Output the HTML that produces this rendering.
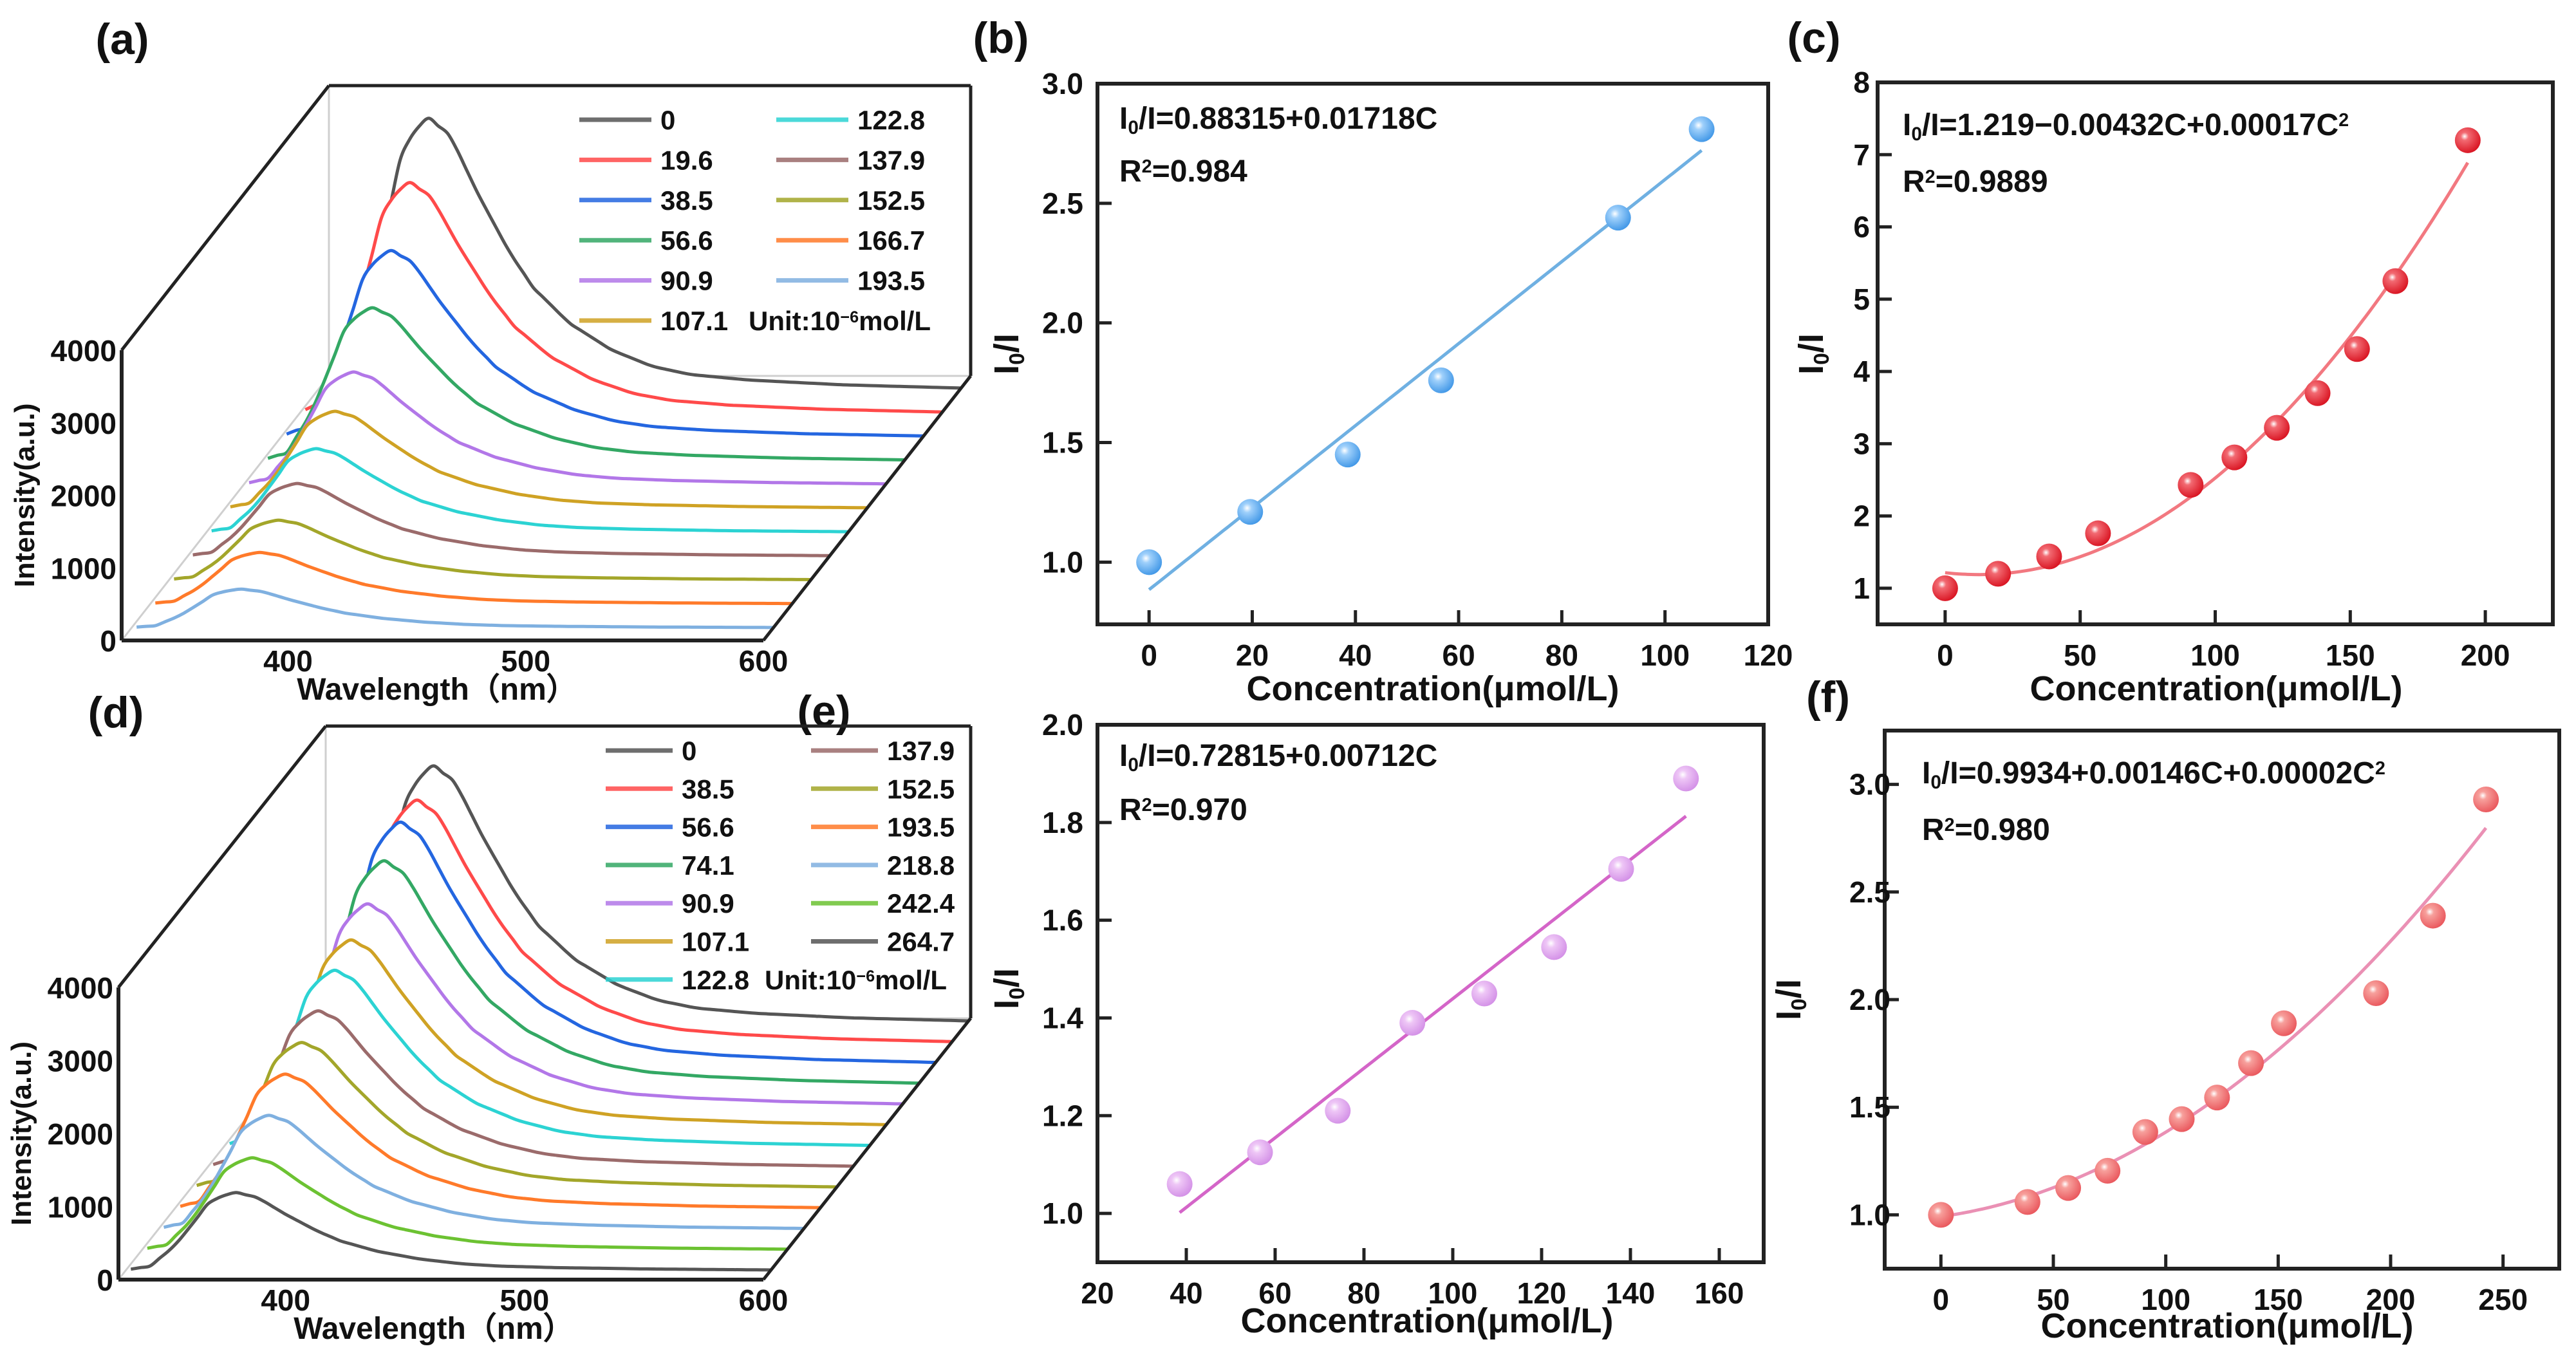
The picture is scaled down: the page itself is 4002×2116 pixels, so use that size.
<!DOCTYPE html>
<html><head><meta charset="utf-8">
<style>
html,body{margin:0;padding:0;background:#fff;}
svg{display:block;}
text{font-family:"Liberation Sans",Arial,sans-serif;font-weight:bold;fill:#111;}
</style></head>
<body>
<svg id="fig" xmlns="http://www.w3.org/2000/svg" width="4002" height="2116" viewBox="0 0 4002 2116">
<defs>
  <radialGradient id="gBlue" cx="0.38" cy="0.35" r="0.7"><stop offset="0" stop-color="#ffffff"/><stop offset="0.25" stop-color="#9fd0fb"/><stop offset="1" stop-color="#3d95e6"/></radialGradient>
  <radialGradient id="gRed" cx="0.38" cy="0.35" r="0.7"><stop offset="0" stop-color="#ffffff"/><stop offset="0.22" stop-color="#f26a72"/><stop offset="1" stop-color="#d8101e"/></radialGradient>
  <radialGradient id="gLilac" cx="0.38" cy="0.35" r="0.7"><stop offset="0" stop-color="#ffffff"/><stop offset="0.25" stop-color="#eec6f6"/><stop offset="1" stop-color="#d28ee6"/></radialGradient>
  <radialGradient id="gSalmon" cx="0.38" cy="0.35" r="0.7"><stop offset="0" stop-color="#ffffff"/><stop offset="0.22" stop-color="#f7a09c"/><stop offset="1" stop-color="#e9545a"/></radialGradient>
</defs>
<g id="layer"></g>
</svg>
<script>
// ---------- DATA ----------
// panel (a) spectra
const aConc = [0, 19.6, 38.5, 56.6, 90.9, 107.1, 122.8, 137.9, 152.5, 166.7, 193.5];
const aPeak = [3743, 3184, 2572, 2111, 1552, 1339, 1153, 1002, 825, 710, 532];
const aColors = ["#555555","#ff4a4a","#2466e0","#33a864","#b277e8","#cfa224","#2cd3d3","#9b6b6b","#a3a62a","#ff7a2a","#7fb0e0"];
// panel (d) spectra
const dConc = [0, 38.5, 56.6, 74.1, 90.9, 107.1, 122.8, 137.9, 152.5, 193.5, 218.8, 242.4, 264.7];
const dPeak = [3515, 3330, 3313, 3066, 2758, 2546, 2414, 2141, 1991, 1841, 1559, 1260, 1066];
const dColors = ["#555555","#ff4a4a","#2466e0","#33a864","#b277e8","#cfa224","#2cd3d3","#9b6b6b","#a3a62a","#ff7a2a","#7fb0e0","#6cc232","#555555"];
// normalized emission profile
const specWl = [330, 340, 350, 358, 365, 375, 385, 397, 410, 420, 435, 453, 470, 486, 510, 550, 600];
const specShape = [0, 0.05, 0.3, 0.6, 0.88, 1, 0.93, 0.71, 0.5, 0.37, 0.24, 0.14, 0.08, 0.05, 0.03, 0.012, 0];
const spTicksY = [0, 1000, 2000, 3000, 4000];
const spTicksX = [400, 500, 600];
// panel (b)
const bConc = [0, 19.6, 38.5, 56.6, 90.9, 107.1];
const bRatio = [1.0, 1.21, 1.45, 1.76, 2.44, 2.81];
const bTicksX = [0, 20, 40, 60, 80, 100, 120];
const bTicksY = [1.0, 1.5, 2.0, 2.5, 3.0];
// panel (c)
const cConc = [0, 19.6, 38.5, 56.6, 90.9, 107.1, 122.8, 137.9, 152.5, 166.7, 193.5];
const cRatio = [1.0, 1.2, 1.44, 1.76, 2.43, 2.81, 3.22, 3.7, 4.31, 5.25, 7.2];
const cTicksX = [0, 50, 100, 150, 200];
const cTicksY = [1, 2, 3, 4, 5, 6, 7, 8];
// panel (e)
const eConc = [38.5, 56.6, 74.1, 90.9, 107.1, 122.8, 137.9, 152.5];
const eRatio = [1.06, 1.125, 1.21, 1.39, 1.45, 1.545, 1.705, 1.89];
const eTicksX = [20, 40, 60, 80, 100, 120, 140, 160];
const eTicksY = [1.0, 1.2, 1.4, 1.6, 1.8, 2.0];
// panel (f)
const fConc = [0, 38.5, 56.6, 74.1, 90.9, 107.1, 122.8, 137.9, 152.5, 193.5, 218.8, 242.4];
const fRatio = [1.0, 1.06, 1.125, 1.205, 1.385, 1.445, 1.545, 1.705, 1.89, 2.03, 2.39, 2.93];
const fTicksX = [0, 50, 100, 150, 200, 250];
const fTicksY = [1.0, 1.5, 2.0, 2.5, 3.0];

// ---------- HELPERS ----------
const NS = "http://www.w3.org/2000/svg";
const layer = document.getElementById("layer");
function mk(tag, attrs, parent) {
  const e = document.createElementNS(NS, tag);
  for (const k in attrs) e.setAttribute(k, attrs[k]);
  (parent || layer).appendChild(e);
  return e;
}
function smoothPath(pts) {
  let d = "M" + pts[0][0].toFixed(1) + "," + pts[0][1].toFixed(1);
  for (let i = 0; i < pts.length - 1; i++) {
    const p0 = pts[i - 1] || pts[i], p1 = pts[i], p2 = pts[i + 1], p3 = pts[i + 2] || p2;
    const c1 = [p1[0] + (p2[0] - p0[0]) / 6, p1[1] + (p2[1] - p0[1]) / 6];
    const c2 = [p2[0] - (p3[0] - p1[0]) / 6, p2[1] - (p3[1] - p1[1]) / 6];
    d += " C" + c1[0].toFixed(1) + "," + c1[1].toFixed(1) + " " + c2[0].toFixed(1) + "," + c2[1].toFixed(1) + " " + p2[0].toFixed(1) + "," + p2[1].toFixed(1);
  }
  return d;
}
function polyfit(xs, ys, deg) {
  const n = deg + 1;
  const A = [], B = [];
  for (let i = 0; i < n; i++) { A.push(new Array(n).fill(0)); B.push(0); }
  for (let k = 0; k < xs.length; k++) {
    for (let i = 0; i < n; i++) {
      B[i] += ys[k] * Math.pow(xs[k], i);
      for (let j = 0; j < n; j++) A[i][j] += Math.pow(xs[k], i + j);
    }
  }
  for (let i = 0; i < n; i++) {
    let p = i;
    for (let r = i + 1; r < n; r++) if (Math.abs(A[r][i]) > Math.abs(A[p][i])) p = r;
    [A[i], A[p]] = [A[p], A[i]]; [B[i], B[p]] = [B[p], B[i]];
    for (let r = i + 1; r < n; r++) {
      const f = A[r][i] / A[i][i];
      for (let c = i; c < n; c++) A[r][c] -= f * A[i][c];
      B[r] -= f * B[i];
    }
  }
  const x = new Array(n).fill(0);
  for (let i = n - 1; i >= 0; i--) {
    let s = B[i];
    for (let c = i + 1; c < n; c++) s -= A[i][c] * x[c];
    x[i] = s / A[i][i];
  }
  return x;
}
function txt(x, y, s, size, anchor, name, parent) {
  const t = mk("text", {x: x, y: y, "font-size": size, "text-anchor": anchor || "start"}, parent);
  
  
  t.textContent = s;
  return t;
}
function richText(x, y, parts, size, anchor, name, parent) {
  const t = mk("text", {x: x, y: y, "font-size": size, "text-anchor": anchor || "start"}, parent);
  
  
  parts.forEach(p => {
    const ts = mk("tspan", {}, t);
    if (p[1] === "sub") { ts.setAttribute("baseline-shift", "-28%"); ts.setAttribute("font-size", size * 0.62); }
    if (p[1] === "sup") { ts.setAttribute("baseline-shift", "50%"); ts.setAttribute("font-size", size * 0.6); }
    ts.textContent = p[0];
  });
  return t;
}

// ---------- SCATTER PANELS ----------
function scatterPanel(cfg) {
  const g = mk("g", {});
  
  
  const X = v => cfg.L + (v - cfg.xr[0]) / (cfg.xr[1] - cfg.xr[0]) * (cfg.R - cfg.L);
  const Y = v => cfg.B - (v - cfg.yr[0]) / (cfg.yr[1] - cfg.yr[0]) * (cfg.B - cfg.T);
  // fit
  const coef = polyfit(cfg.xs, cfg.ys, cfg.deg);
  const lo = Math.min(...cfg.xs), hi = Math.max(...cfg.xs);
  const fp = [];
  for (let i = 0; i <= 60; i++) {
    const v = lo + (hi - lo) * i / 60;
    let y = 0; coef.forEach((c, k) => y += c * Math.pow(v, k));
    fp.push([X(v), Y(y)]);
  }
  const fl = mk("path", {d: smoothPath(fp), fill: "none", stroke: cfg.lineColor, "stroke-width": 5}, g);
  
  
  // points
  cfg.xs.forEach((v, i) => {
    const c = mk("circle", {cx: X(v), cy: Y(cfg.ys[i]), r: 20, fill: cfg.grad}, g);
    
    
  });
  // frame
  const fr = mk("rect", {x: cfg.L, y: cfg.T, width: cfg.R - cfg.L, height: cfg.B - cfg.T, fill: "none", stroke: "#222", "stroke-width": 6}, g);
  
  
  // ticks
  cfg.tx.forEach(v => {
    const l = mk("line", {x1: X(v), x2: X(v), y1: cfg.B, y2: cfg.B - 22, stroke: "#222", "stroke-width": 5}, g);
    
    
    txt(X(v), cfg.B + 64, String(v), 46, "middle", "x-tick-label", g);
  });
  cfg.ty.forEach(v => {
    const l = mk("line", {x1: cfg.L, x2: cfg.L + 22, y1: Y(v), y2: Y(v), stroke: "#222", "stroke-width": 5}, g);
    
    
    txt(cfg.yLabX, Y(v) + 16, cfg.fmt(v), 46, "end", "y-tick-label", g);
  });
  txt(cfg.titleX, cfg.titleY, "Concentration(μmol/L)", 54, "middle", "x-axis-title", g);
  const yt = richText(0, 0, [["I"], ["0", "sub"], ["/I"]], 54, "middle", "y-axis-title", g);
  yt.setAttribute("transform", "translate(" + cfg.yTitleX + "," + cfg.yTitleY + ") rotate(-90)");
  richText(cfg.eqX, cfg.eqY, cfg.eq, 48, "start", "fit-equation", g);
  richText(cfg.eqX, cfg.eqY + cfg.eqGap, [["R"], ["2", "sup"], ["=" + cfg.r2]], 48, "start", "r-squared", g);
  txt(cfg.lblX, cfg.lblY, cfg.lbl, 68, "middle", "panel-label", g);
}

scatterPanel({name: "panel-b", L: 1705, R: 2747, T: 130, B: 970, xr: [-10, 120], yr: [0.74, 3.0],
  xs: bConc, ys: bRatio, deg: 1, tx: bTicksX, ty: bTicksY, fmt: v => v.toFixed(1),
  grad: "url(#gBlue)", lineColor: "#6fb0e2", yLabX: 1683, titleX: 2226, titleY: 1088,
  yTitleX: 1582, yTitleY: 550, eqX: 1739, eqY: 200, eqGap: 82,
  eq: [["I"], ["0", "sub"], ["/I=0.88315+0.01718C"]], r2: "0.984", lbl: "(b)", lblX: 1555, lblY: 82});
scatterPanel({name: "panel-c", L: 2917, R: 3966, T: 128, B: 970, xr: [-25, 225], yr: [0.5, 8],
  xs: cConc, ys: cRatio, deg: 2, tx: cTicksX, ty: cTicksY, fmt: v => String(v),
  grad: "url(#gRed)", lineColor: "#f27880", yLabX: 2905, titleX: 3443, titleY: 1088,
  yTitleX: 2832, yTitleY: 550, eqX: 2956, eqY: 210, eqGap: 88,
  eq: [["I"], ["0", "sub"], ["/I=1.219−0.00432C+0.00017C"], ["2", "sup"]], r2: "0.9889", lbl: "(c)", lblX: 2818, lblY: 82});
scatterPanel({name: "panel-e", L: 1705, R: 2740, T: 1126, B: 1961, xr: [20, 170], yr: [0.9, 2.0],
  xs: eConc, ys: eRatio, deg: 1, tx: eTicksX, ty: eTicksY, fmt: v => v.toFixed(1),
  grad: "url(#gLilac)", lineColor: "#d465c8", yLabX: 1683, titleX: 2217, titleY: 2070,
  yTitleX: 1582, yTitleY: 1536, eqX: 1739, eqY: 1190, eqGap: 84,
  eq: [["I"], ["0", "sub"], ["/I=0.72815+0.00712C"]], r2: "0.970", lbl: "(e)", lblX: 1280, lblY: 1128});
scatterPanel({name: "panel-f", L: 2928, R: 3976, T: 1135, B: 1971, xr: [-25, 275], yr: [0.75, 3.25],
  xs: fConc, ys: fRatio, deg: 2, tx: fTicksX, ty: fTicksY, fmt: v => v.toFixed(1),
  grad: "url(#gSalmon)", lineColor: "#ea90b4", yLabX: 2937, titleX: 3460, titleY: 2078,
  yTitleX: 2797, yTitleY: 1553, eqX: 2986, eqY: 1217, eqGap: 88,
  eq: [["I"], ["0", "sub"], ["/I=0.9934+0.00146C+0.00002C"], ["2", "sup"]], r2: "0.980", lbl: "(f)", lblX: 2840, lblY: 1106});

// ---------- WATERFALL PANELS ----------
function shapeAt(w) {
  if (w <= specWl[0]) return specShape[0];
  for (let i = 0; i < specWl.length - 1; i++) {
    if (w <= specWl[i + 1]) {
      const t = (w - specWl[i]) / (specWl[i + 1] - specWl[i]);
      return specShape[i] + t * (specShape[i + 1] - specShape[i]);
    }
  }
  return 0;
}
function waterfall(cfg) {
  const g = mk("g", {});
  
  
  const sx = (cfg.x600 - cfg.x0) / (600 - 330);
  const sy = (cfg.y0 - cfg.y4000) / 4000;
  const P = (w, I, dep) => [cfg.x0 + (w - 330) * sx + dep * cfg.dv[0], cfg.y0 - I * sy + dep * cfg.dv[1]];
  const line = (a, b, col, w, name) => {
    const l = mk("line", {x1: a[0], y1: a[1], x2: b[0], y2: b[1], stroke: col, "stroke-width": w}, g);
    
    
  };
  // back wall / floor light lines
  line(P(330, 0, 1), P(600, 0, 1), "#cfcfcf", 3, "back-floor-edge");
  line(P(330, 0, 0), P(330, 0, 1), "#cfcfcf", 3, "left-floor-edge");
  line(P(330, 0, 1), P(330, 4000, 1), "#cfcfcf", 3, "back-wall-edge");
  // curves back to front
  const n = cfg.peaks.length;
  for (let i = 0; i < n; i++) {
    const dep = cfg.dBack - i * (cfg.dBack - cfg.dFront) / (n - 1);
    const pts = [];
    for (let w = 332; w <= 600; w += 4) pts.push(P(w, cfg.peaks[i] * shapeAt(w), dep));
    const d = smoothPath(pts);
    const base0 = P(332, 0, dep), base1 = P(600, 0, dep);
    const fill = mk("path", {d: d + " L" + base1[0] + "," + (base1[1] + 40) + " L" + base0[0] + "," + (base0[1] + 40) + " Z", fill: "#fff", stroke: "none"}, g);
    
    
    const c = mk("path", {d: d, fill: "none", stroke: cfg.colors[i], "stroke-width": 5, "stroke-linejoin": "round"}, g);
    
    
  }
  // box edges
  line(P(330, 0, 0), P(600, 0, 0), "#222", 6, "x-axis");
  line(P(330, 0, 0), P(330, 4000, 0), "#222", 6, "y-axis");
  line(P(330, 4000, 0), P(330, 4000, 1), "#222", 5, "top-left-edge");
  line(P(330, 4000, 1), P(600, 4000, 1), "#222", 5, "top-back-edge");
  line(P(600, 4000, 1), P(600, 0, 1), "#222", 5, "right-back-edge");
  line(P(600, 0, 0), P(600, 0, 1), "#222", 5, "right-floor-edge");
  spTicksY.forEach(v => {
    const p = P(330, v, 0);
    txt(p[0] - 8, p[1] + 17, String(v), 46, "end", "y-tick-label", g);
  });
  spTicksX.forEach(v => {
    const p = P(v, 0, 0);
    txt(p[0], p[1] + 48, String(v), 46, "middle", "x-tick-label", g);
  });
  const yp = P(330, 2000, 0);
  const yt = txt(0, 0, "Intensity(a.u.)", 44, "middle", "y-axis-title", g);
  yt.setAttribute("transform", "translate(" + (yp[0] - 136) + "," + yp[1] + ") rotate(-90)");
  txt(cfg.x0 + 490, cfg.y0 + 92, "Wavelength（nm）", 48, "middle", "x-axis-title", g);
  txt(cfg.lblX, cfg.lblY, cfg.lbl, 68, "middle", "panel-label", g);
  // legend
  const lg = mk("g", {}, g);
  
  
  const rows = cfg.rows;
  for (let i = 0; i < n; i++) {
    const col = i < rows ? 0 : 1, r = i < rows ? i : i - rows;
    const y = cfg.legY + r * cfg.legGap;
    const lx = col === 0 ? cfg.legX1 : cfg.legX2;
    const l = mk("line", {x1: lx, x2: lx + cfg.legLen, y1: y, y2: y, stroke: cfg.colors[i], "stroke-width": 7, opacity: 0.85}, lg);
    
    
    txt(lx + cfg.legLen + 14, y + 15, String(cfg.conc[i]), 42, "start", "legend-entry", lg);
  }
  richText(cfg.unitX, cfg.legY + (rows - 1) * cfg.legGap + 15, [["Unit:10"], ["−6", "sup"], ["mol/L"]], 42, "start", "legend-unit", lg);
}

waterfall({name: "panel-a", x0: 189, y0: 995, x600: 1186, y4000: 544, dv: [322, -411],
  dBack: 0.954, dFront: 0.049, peaks: aPeak, colors: aColors, conc: aConc,
  lbl: "(a)", lblX: 190, lblY: 84, rows: 6, legY: 186, legGap: 62.4,
  legX1: 900, legX2: 1206, legLen: 112, unitX: 1163});
waterfall({name: "panel-d", x0: 184, y0: 1988, x600: 1186, y4000: 1534, dv: [322, -406],
  dBack: 0.99, dFront: 0.037, peaks: dPeak, colors: dColors, conc: dConc,
  lbl: "(d)", lblX: 180, lblY: 1130, rows: 7, legY: 1166, legGap: 59.3,
  legX1: 941, legX2: 1260, legLen: 104, unitX: 1188});
</script>
</body></html>
